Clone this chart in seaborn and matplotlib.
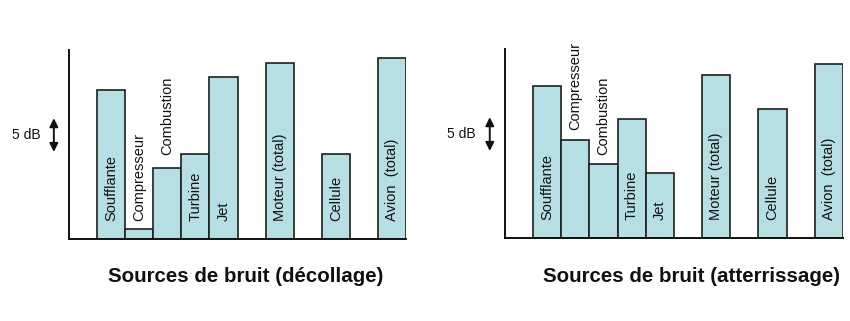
import matplotlib
matplotlib.use("Agg")
import matplotlib.pyplot as plt
import matplotlib.transforms as mtransforms
import seaborn as sns
import pandas as pd

sns.set_style("white")
plt.rcParams['font.family'] = ['Liberation Sans', 'DejaVu Sans']

sources = ["Soufflante", "Compresseur", "Combustion", "Turbine", "Jet",
           "Moteur (total)", "Cellule", "Avion  (total)"]
# relative noise levels (dB above baseline)
decollage = [22.9, 1.5, 10.9, 13.1, 24.9, 27.1, 13.1, 27.8]
atterrissage = [23.4, 15.1, 11.4, 18.3, 10.0, 25.1, 19.8, 26.8]
# vertical start of each rotated label (dB)
label_dec = [2.8, 2.8, 12.9, 2.8, 2.8, 2.8, 2.8, 2.8]
label_att = [2.8, 16.6, 12.8, 2.8, 2.8, 2.8, 2.8, 2.8]
titles = ["Sources de bruit (décollage)", "Sources de bruit (atterrissage)"]

order = ["Soufflante", "Compresseur", "Combustion", "Turbine", "Jet", " ",
         "Moteur (total)", "  ", "Cellule", "   ", "Avion  (total)"]

fig = plt.figure(figsize=(8.5, 3.21), dpi=100)
ax1 = fig.add_axes([0.0812, 0.2555, 0.3965, 0.5888])
ax2 = fig.add_axes([0.5941, 0.2586, 0.3976, 0.5888])

for ax, vals, lab, title, tx in [(ax1, decollage, label_dec, titles[0], 0.289),
                                  (ax2, atterrissage, label_att, titles[1], 0.814)]:
    df = pd.DataFrame({"source": sources, "level": vals})
    sns.barplot(data=df, x="source", y="level", order=order, ax=ax,
                color="#B5DFE3", saturation=1, width=1.0,
                edgecolor="#1e1e1e", linewidth=1.2)
    for s, b in zip(sources, lab):
        xi = order.index(s)
        ax.text(xi, b, s, rotation=90, ha="center", va="bottom",
                fontsize=10.5, color="#111111", clip_on=False)
    ax.set_xlim(-1.5, 10.5)
    ax.set_ylim(0, 29.1)
    ax.set_xticks([])
    ax.set_yticks([])
    ax.set_xlabel("")
    ax.set_ylabel("")
    for side in ["top", "right"]:
        ax.spines[side].set_visible(False)
    for side in ["left", "bottom"]:
        ax.spines[side].set_color("#111111")
        ax.spines[side].set_linewidth(1.4)
    trans = mtransforms.blended_transform_factory(ax.transAxes, ax.transData)
    ax.annotate("", xy=(-0.045, 18.6), xytext=(-0.045, 13.4),
                xycoords=trans, textcoords=trans,
                arrowprops=dict(arrowstyle="<|-|>,head_length=0.5,head_width=0.25",
                                color="#111111", lw=1.4, shrinkA=0, shrinkB=0),
                annotation_clip=False)
    ax.text(-0.128, 16.0, "5 dB", transform=trans, ha="center", va="center",
            fontsize=10, color="#111111")
    fig.text(tx, 0.14, title, ha="center", va="center", fontsize=14.8,
             fontweight="bold", color="#111111")

fig.savefig("out.png", dpi=100)
